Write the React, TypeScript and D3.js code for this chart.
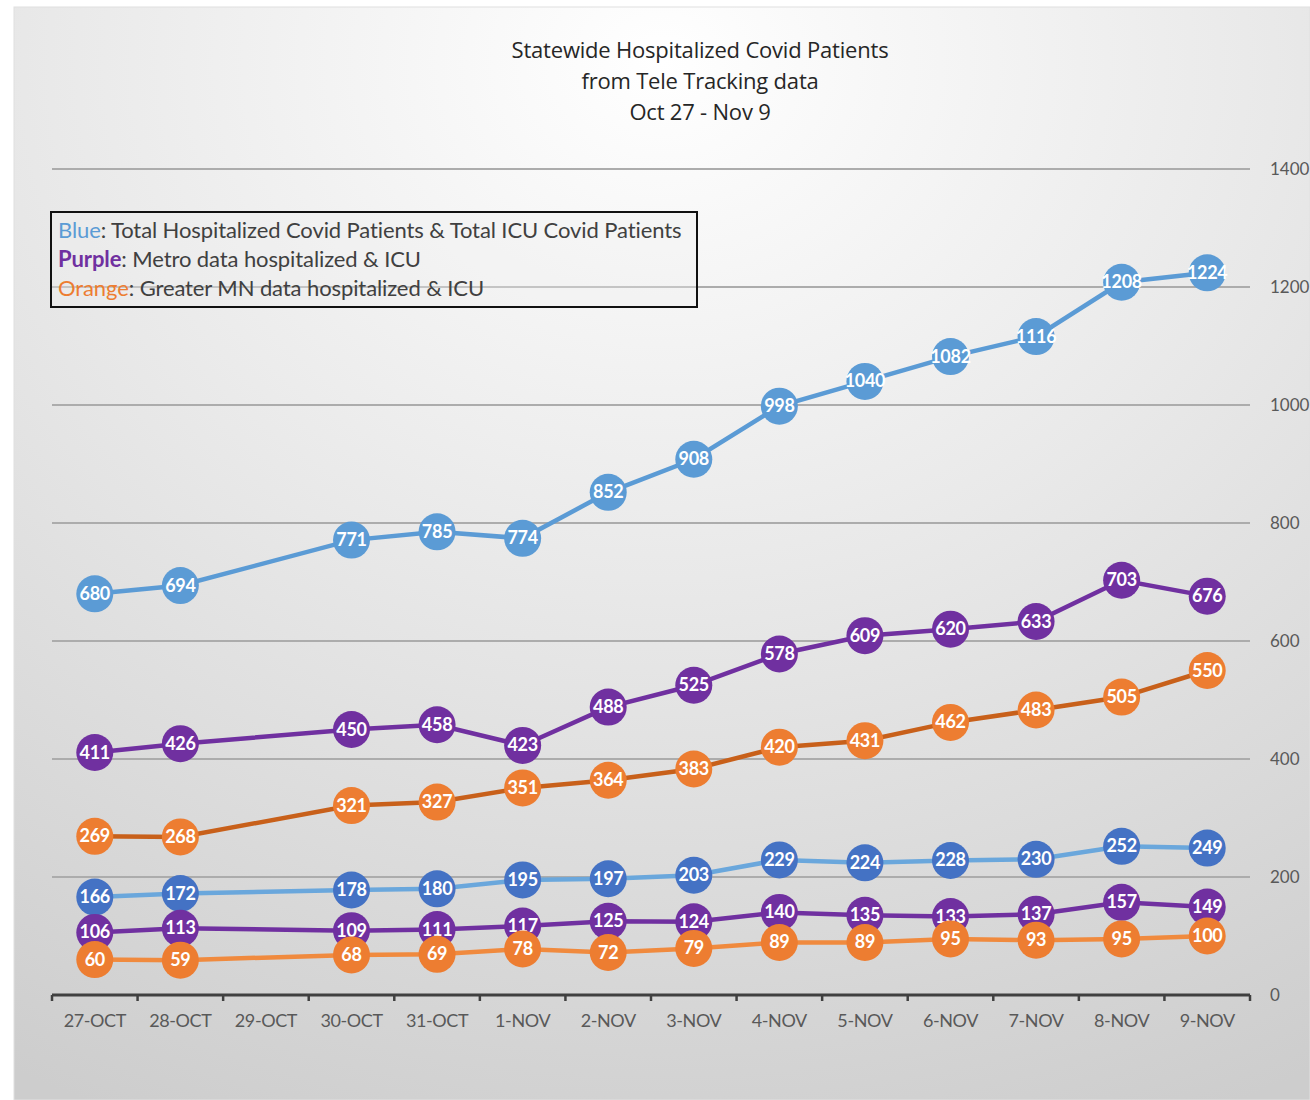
import React from 'react';
import * as d3 from 'd3';

// categories on the x axis (29-OCT has no data)
const days = ['27-OCT', '28-OCT', '29-OCT', '30-OCT', '31-OCT', '1-NOV', '2-NOV', '3-NOV', '4-NOV', '5-NOV', '6-NOV', '7-NOV', '8-NOV', '9-NOV'];

const totalHosp = [680, 694, null, 771, 785, 774, 852, 908, 998, 1040, 1082, 1116, 1208, 1224];
const metroHosp = [411, 426, null, 450, 458, 423, 488, 525, 578, 609, 620, 633, 703, 676];
const greaterHosp = [269, 268, null, 321, 327, 351, 364, 383, 420, 431, 462, 483, 505, 550];
const totalIcu = [166, 172, null, 178, 180, 195, 197, 203, 229, 224, 228, 230, 252, 249];
const metroIcu = [106, 113, null, 109, 111, 117, 125, 124, 140, 135, 133, 137, 157, 149];
const greaterIcu = [60, 59, null, 68, 69, 78, 72, 79, 89, 89, 95, 93, 95, 100];

const yTicks = [0, 200, 400, 600, 800, 1000, 1200, 1400];
const titleLines = ['Statewide Hospitalized Covid Patients', 'from Tele Tracking data', 'Oct 27 - Nov 9'];

const series = [
  { name: 'totalHosp', values: totalHosp, line: '#5b9bd5', dot: '#5b9bd5' },
  { name: 'metroHosp', values: metroHosp, line: '#7030a0', dot: '#7030a0' },
  { name: 'greaterHosp', values: greaterHosp, line: '#c8601a', dot: '#ed7d31' },
  { name: 'totalIcu', values: totalIcu, line: '#6aa7dc', dot: '#4472c4' },
  { name: 'metroIcu', values: metroIcu, line: '#7030a0', dot: '#7030a0' },
  { name: 'greaterIcu', values: greaterIcu, line: '#f08a3e', dot: '#ed7d31' },
];

const FONT = 'Lato, "Open Sans", sans-serif';

export default function App() {
  const width = 1310;
  const height = 1100;
  const left = 52;
  const right = 1250;
  const top = 169;
  const bottom = 995;

  const x = d3.scaleBand<string>().domain(days).range([left, right]);
  const y = d3.scaleLinear().domain([0, 1400]).range([bottom, top]);
  const cx = (d: string) => (x(d) ?? 0) + x.bandwidth() / 2;

  const line = d3
    .line<[string, number | null]>()
    .x(d => cx(d[0]))
    .y(d => y(d[1] as number));

  return (
    <>
      <style>{'body{margin:0}'}</style>
      <svg width={width} height={height} style={{ display: 'block', fontFamily: FONT }}>
        <defs>
          <radialGradient id="bg" cx="0.5" cy="0.05" r="1.05" fx="0.5" fy="0.05">
            <stop offset="0" stopColor="#ffffff" />
            <stop offset="0.45" stopColor="#e9e9e9" />
            <stop offset="1" stopColor="#cdcdcd" />
          </radialGradient>
        </defs>
        <rect x={0} y={0} width={width} height={height} fill="#ffffff" />
        <rect x={14} y={7} width={width - 14} height={height - 7} fill="url(#bg)" stroke="#e0e0e0" />

        {/* title */}
        {titleLines.map((t, i) => (
          <text key={t} x={700} y={58 + i * 31} textAnchor="middle" fontSize={22} fill="#262626" style={{ fontFamily: '"Open Sans", sans-serif' }} letterSpacing={-0.2}>
            {t}
          </text>
        ))}

        {/* gridlines and y labels */}
        {yTicks.map(t => (
          <g key={t}>
            {t > 0 && <line x1={left} x2={right} y1={y(t)} y2={y(t)} stroke="#acacac" strokeWidth={1.8} />}
            <text x={1270} y={y(t) + 6} fontSize={17} fill="#595959">{t}</text>
          </g>
        ))}

        {/* x axis */}
        <line x1={left} x2={right} y1={bottom} y2={bottom} stroke="#404040" strokeWidth={3} />
        {d3.range(days.length + 1).map(i => {
          const xv = left + i * x.step();
          return <line key={i} x1={xv} x2={xv} y1={bottom} y2={bottom + 6} stroke="#404040" strokeWidth={2.5} />;
        })}
        {days.map(d => (
          <text key={d} x={cx(d)} y={1027} textAnchor="middle" fontSize={18} fill="#595959" letterSpacing={-0.4}>
            {d}
          </text>
        ))}

        {/* legend */}
        <rect x={51} y={212} width={646} height={95} fill="#f0f0f0" fillOpacity={0.35} stroke="#111" strokeWidth={2} />
        <text x={58} y={238} fontSize={22} fill="#404040" letterSpacing={-0.1}>
          <tspan fill="#5b9bd5">Blue</tspan>: Total Hospitalized Covid Patients &amp; Total ICU Covid Patients
        </text>
        <text x={58} y={267} fontSize={22} fill="#404040" letterSpacing={-0.1}>
          <tspan fill="#7030a0" fontWeight="bold">Purple</tspan>: Metro data hospitalized &amp; ICU
        </text>
        <text x={58} y={296} fontSize={22} fill="#404040" letterSpacing={-0.1}>
          <tspan fill="#ed7d31">Orange</tspan>: Greater MN data hospitalized &amp; ICU
        </text>

        {/* series */}
        {series.map(s => {
          const pts = days
            .map((d, i) => [d, s.values[i]] as [string, number | null])
            .filter(p => p[1] !== null);
          return (
            <g key={s.name}>
              <path d={line(pts) ?? ''} fill="none" stroke={s.line} strokeWidth={4.5} />
              {pts.map(p => (
                <g key={p[0]}>
                  <circle cx={cx(p[0])} cy={y(p[1] as number)} r={18.5} fill={s.dot} />
                  <text
                    x={cx(p[0])}
                    y={y(p[1] as number) + 6}
                    textAnchor="middle"
                    fontSize={18}
                    fontWeight="bold"
                    fill="#ffffff"
                    letterSpacing={-0.3}
                  >
                    {p[1]}
                  </text>
                </g>
              ))}
            </g>
          );
        })}
      </svg>
    </>
  );
}
